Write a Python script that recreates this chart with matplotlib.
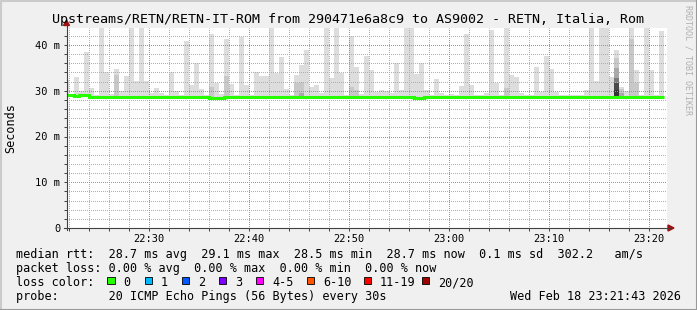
import matplotlib
matplotlib.use("Agg")
import matplotlib.pyplot as plt
from matplotlib.ticker import MultipleLocator, FixedLocator, FuncFormatter
from matplotlib.patches import Rectangle, Polygon
from matplotlib.lines import Line2D

W, H = 697, 310
MONO = "DejaVu Sans Mono"

title = "Upstreams/RETN/RETN-IT-ROM from 290471e6a8c9 to AS9002 - RETN, Italia, Rom"

# 30 s steps, minutes after 22:00; first step begins 22:21:30
first_step = 21.5
step = 0.5
view_start, view_end = 21 + 43 / 60, 81 + 43 / 60   # 22:21:43 .. 23:21:43

# median rtt per step (ms)
median_rtt = [
    29.0, 29.0, 28.8, 29.1, 29.1, 28.7, 28.7, 28.7, 28.7, 28.7,
    28.7, 28.7, 28.7, 28.7, 28.7, 28.7, 28.7, 28.7, 28.7, 28.7,
    28.7, 28.7, 28.7, 28.7, 28.7, 28.7, 28.7, 28.7, 28.7, 28.5,
    28.5, 28.5, 28.7, 28.7, 28.7, 28.7, 28.7, 28.7, 28.7, 28.7,
    28.7, 28.7, 28.7, 28.7, 28.7, 28.7, 28.7, 28.7, 28.7, 28.7,
    28.7, 28.7, 28.7, 28.7, 28.7, 28.7, 28.7, 28.7, 28.7, 28.7,
    28.7, 28.7, 28.7, 28.7, 28.7, 28.7, 28.7, 28.7, 28.7, 28.7,
    28.5, 28.5, 28.7, 28.7, 28.7, 28.7, 28.7, 28.7, 28.7, 28.7,
    28.7, 28.7, 28.7, 28.7, 28.7, 28.7, 28.7, 28.7, 28.7, 28.7,
    28.7, 28.7, 28.7, 28.7, 28.7, 28.7, 28.7, 28.7, 28.7, 28.7,
    28.7, 28.7, 28.7, 28.7, 28.7, 28.7, 28.7, 28.7, 28.7, 28.7,
    28.7, 28.7, 28.7, 28.7, 28.7, 28.7, 28.7, 28.7, 28.7, 28.7,
]

# slowest ping per step (ms), outer smoke
ping_max = [
    32.3, 29.0, 33.1, 30.0, 38.5, 30.7, 29.0, 48.0, 34.1, 29.2,
    34.8, 30.0, 33.2, 48.0, 32.1, 48.0, 32.1, 29.6, 30.7, 29.5,
    29.0, 34.1, 30.0, 29.0, 40.9, 31.3, 36.1, 30.4, 29.0, 42.4,
    31.8, 29.3, 41.3, 31.5, 29.0, 41.8, 31.3, 29.0, 34.1, 33.2,
    33.2, 48.0, 33.9, 37.4, 30.4, 29.0, 33.4, 35.6, 38.8, 30.9,
    31.3, 29.5, 48.0, 32.8, 48.0, 33.8, 29.0, 42.0, 35.3, 29.3,
    37.5, 34.5, 29.8, 30.2, 29.9, 29.6, 36.1, 30.2, 48.0, 48.0,
    33.7, 36.1, 30.1, 29.0, 32.6, 29.5, 29.0, 29.2, 29.0, 31.0,
    42.3, 31.3, 29.0, 29.0, 29.4, 43.3, 31.7, 29.0, 48.0, 33.5,
    33.0, 29.5, 29.0, 29.0, 35.2, 29.8, 37.6, 34.8, 29.7, 29.0,
    29.0, 29.0, 29.0, 29.0, 30.2, 48.0, 32.1, 48.0, 48.0, 32.9,
    38.9, 30.9, 29.9, 48.0, 34.5, 29.0, 48.0, 34.5, 29.0, 43.1,
]

# inner (denser) smoke bands: step index, depth level, upper edge (ms)
band_step = [10, 29, 32, 46, 47, 47, 57, 58, 88, 110, 110, 110, 110, 110, 111, 111, 113, 114]
band_level = [1, 1, 1, 1, 1, 2, 1, 1, 1, 1, 2, 3, 4, 5, 1, 2, 1, 1]
band_top = [33.5, 30.8, 33.3, 31.6, 32.0, 29.6, 30.9, 30.2, 30.5,
            37.2, 34.9, 32.8, 31.6, 30.2, 30.4, 29.6, 41.3, 31.7]

rtt_avg, rtt_max, rtt_min, rtt_now, rtt_sd, rtt_am = 28.7, 29.1, 28.5, 28.7, 0.1, 302.2
loss_avg, loss_max, loss_min, loss_now = 0.00, 0.00, 0.00, 0.00
loss_labels = ["0", "1", "2", "3", "4-5", "6-10", "11-19", "20/20"]
loss_colors = ["#26ff00", "#00b8ff", "#0059ff", "#7e00ff", "#ff00ff", "#ff5500", "#ff0000", "#a10000"]
probe_text = "20 ICMP Echo Pings (56 Bytes) every 30s"
stamp = "Wed Feb 18 23:21:43 2026"

smoke_shades = ["#dddddd", "#c8c8c8", "#a8a8a8", "#7a7a7a", "#4a4a4a", "#333333"]


def fx(px):
    return px / W


def fy(py):
    return 1 - py / H


fig = plt.figure(figsize=(W / 100, H / 100), dpi=100, facecolor="#f0f0f0")
ax = fig.add_axes([fx(66.5), fy(228), 600 / W, 200 / H])
ax.set_facecolor("white")

n = len(ping_max)
lefts = [first_step + i * step for i in range(n)]
edges = lefts + [lefts[-1] + step]

ax.bar(lefts, [ping_max[i] - median_rtt[i] for i in range(n)], bottom=median_rtt,
       width=step, align="edge", color=smoke_shades[0], linewidth=0, zorder=1)
for s, lv, top in zip(band_step, band_level, band_top):
    ax.bar(lefts[s], top - median_rtt[s], bottom=median_rtt[s], width=step,
           align="edge", color=smoke_shades[lv], linewidth=0, zorder=1)
ax.stairs(median_rtt, edges, baseline=None, color=loss_colors[0], linewidth=2.2, zorder=3)

ax.set_xlim(view_start, view_end)
ax.set_ylim(0, 200 / 4.575)

x_major = list(range(30, 81, 10))
x_minor = [m for m in range(22, 82, 2) if m % 10]
y_major = [10, 20, 30, 40]
y_minor = [v for v in range(2, 44, 2) if v % 10]

ax.xaxis.set_major_locator(FixedLocator(x_major))
ax.xaxis.set_minor_locator(FixedLocator(x_minor))
ax.yaxis.set_major_locator(FixedLocator([0] + y_major))
ax.yaxis.set_minor_locator(FixedLocator(y_minor))
ax.xaxis.set_major_formatter(FuncFormatter(lambda m, p: f"{22 + int(round(m)) // 60}:{int(round(m)) % 60:02d}"))
ax.yaxis.set_major_formatter(FuncFormatter(lambda v, p: "0" if v == 0 else f"{v:.0f} m"))

# dotted grid on top of the smoke, each line snapped to the pixel grid
dots = (0.5, (1, 1))
for v in y_minor:
    ax.axhline(v, color="#b0b0b0", linestyle=dots, linewidth=0.72, snap=True, zorder=2)
for m in x_minor:
    ax.axvline(m, color="#b0b0b0", linestyle=dots, linewidth=0.72, snap=True, zorder=2)
for v in y_major:
    ax.axhline(v, color="#ff6a6a", linestyle=dots, linewidth=0.72, snap=True, zorder=2)
for m in x_major:
    ax.axvline(m, color="#ff6a6a", linestyle=dots, linewidth=0.72, snap=True, zorder=2)

for sp in ax.spines.values():
    sp.set_visible(False)
ax.tick_params(which="both", direction="out", length=2, width=0.7, color="#404040")
ax.tick_params(axis="x", which="major", pad=2.5, labelsize=7.5)
ax.tick_params(axis="y", which="major", pad=2.5, labelsize=7.5)
for lab in ax.get_xticklabels() + ax.get_yticklabels():
    lab.set_family(MONO)

# axis lines with arrows
axis_col = "#404040"
arrow_col = "#a01010"
fig.add_artist(Line2D([fx(66.5), fx(66.5)], [fy(230), fy(24)], color=axis_col, linewidth=0.8))
fig.add_artist(Line2D([fx(64), fx(670)], [fy(228), fy(228)], color=axis_col, linewidth=0.8))
fig.add_artist(Polygon([(fx(63.5), fy(25.5)), (fx(69.5), fy(25.5)), (fx(66.5), fy(20))],
                       closed=True, color=arrow_col, transform=fig.transFigure))
fig.add_artist(Polygon([(fx(668), fy(225)), (fx(668), fy(231)), (fx(674), fy(228))],
                       closed=True, color=arrow_col, transform=fig.transFigure))

# frame
fig.add_artist(Line2D([fx(0.5), fx(0.5), fx(696.5)], [fy(309.5), fy(0.5), fy(0.5)],
                      color="#cbcbcb", linewidth=1.5))
fig.add_artist(Line2D([fx(0.5), fx(696.5), fx(696.5)], [fy(309.5), fy(309.5), fy(0.5)],
                      color="#999999", linewidth=1.5))

fig.text(fx(348.5), fy(23.5), title, family=MONO, fontsize=9.6, ha="center", va="baseline")
fig.text(fx(11), fy(128), "Seconds", family=MONO, fontsize=8.5, rotation=90,
         ha="center", va="center")
fig.text(fx(688), fy(5), "RRDTOOL / TOBI OETIKER", family=MONO, fontsize=6, rotation=270,
         ha="center", va="top", color="#b0b0b0")

row1 = (f"median rtt:  {rtt_avg:.1f} ms avg  {rtt_max:.1f} ms max  {rtt_min:.1f} ms min  "
        f"{rtt_now:.1f} ms now  {rtt_sd:.1f} ms sd  {rtt_am:.1f}   am/s")
row2 = (f"packet loss: {loss_avg:.2f} % avg  {loss_max:.2f} % max  {loss_min:.2f} % min  "
        f"{loss_now:.2f} % now")
legend_fs = 8.5
fig.text(fx(16), fy(258), row1, family=MONO, fontsize=legend_fs, va="baseline")
fig.text(fx(16), fy(272), row2, family=MONO, fontsize=legend_fs, va="baseline")
fig.text(fx(16), fy(286), "loss color:", family=MONO, fontsize=legend_fs, va="baseline")
box_x = [107.3, 145, 182, 219, 256, 307, 364, 422]
for bx, lab, col in zip(box_x, loss_labels, loss_colors):
    fig.add_artist(Rectangle((fx(bx), fy(284.3)), 7.3 / W, 7.3 / H, facecolor=col,
                             edgecolor="black", linewidth=0.6, transform=fig.transFigure))
    fig.text(fx(bx + 16), fy(286), lab, family=MONO, fontsize=legend_fs, va="baseline")
fig.text(fx(16), fy(300), "probe:       " + probe_text, family=MONO, fontsize=legend_fs, va="baseline")
fig.text(fx(681), fy(300), stamp, family=MONO, fontsize=legend_fs, va="baseline", ha="right")

fig.savefig("out.png", dpi=100, facecolor=fig.get_facecolor())
